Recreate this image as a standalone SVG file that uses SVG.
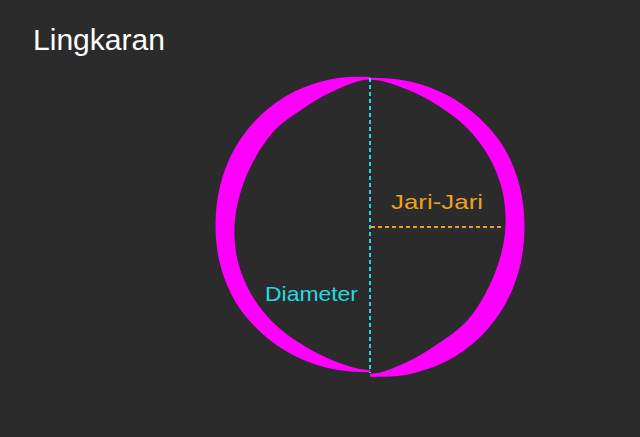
<svg xmlns="http://www.w3.org/2000/svg" width="640" height="437" viewBox="0 0 640 437">
  <defs>
    <style>
      .bg { fill: #2b2b2b; }
      .crescent { fill: #ff00ff; stroke: none; }
      .title { font-family: "Liberation Sans", Arial, sans-serif; font-size: 30px; fill: #ffffff; }
      .lbl { font-family: "Liberation Sans", Arial, sans-serif; font-size: 21px; }
      .dia { stroke: #26d9e0; stroke-width: 2; stroke-dasharray: 4 3; fill: none; }
      .rad { stroke: #f0a020; stroke-width: 2; stroke-dasharray: 4 3; fill: none; }
    </style>
    <path id="crescent" d="M370,76.7 C356.97,76.7 343.71,76.59 330.92,79.15 C318.13,81.71 305,86.03 293.25,92.07 C281.5,98.11 270.05,106.2 260.4,115.4 C250.75,124.6 242.03,135.67 235.34,147.25 C228.66,158.83 223.6,171.93 220.29,184.89 C216.98,197.85 215.5,211.63 215.5,225 C215.5,238.37 216.91,252.19 220.29,265.11 C223.67,278.03 228.85,291.15 235.77,302.5 C242.69,313.85 252.02,324.31 261.81,333.19 C271.6,342.07 282.89,349.85 294.5,355.77 C306.11,361.69 318.91,366.03 331.49,368.73 C344.07,371.44 357.16,372 370,372 L370,370 C357.88,370 345.1,365.03 333.64,360.71 C322.18,356.39 311.4,350.49 301.25,344.08 C291.11,337.67 281.16,330.62 272.77,322.23 C264.38,313.84 256.77,304.05 250.92,293.75 C245.07,283.46 240.41,271.92 237.67,260.46 C234.93,249 233.94,236.67 234.5,225 C235.06,213.33 237.66,201.53 241.05,190.45 C244.44,179.37 249.18,168.59 254.82,158.5 C260.46,148.41 266.89,138.19 274.89,129.89 C282.9,121.59 292.99,115.22 302.85,108.69 C312.71,102.17 322.84,95.61 334.03,90.74 C345.22,85.88 358.01,79.5 370,79.5 Z"/>
  </defs>
  <rect class="bg" x="0" y="0" width="640" height="437"/>
  <g id="title">
    <text class="title" x="33" y="50" textLength="132" lengthAdjust="spacingAndGlyphs">Lingkaran</text>
  </g>
  <g id="circle">
    <use id="crescent-left" href="#crescent" class="crescent"/>
    <use id="crescent-right" href="#crescent" class="crescent" transform="matrix(-1 0 0 -1.012 740 454.29)"/>
  </g>
  <g id="connectors">
    <line class="dia" x1="370" y1="78" x2="370" y2="373"/>
    <line class="rad" x1="371" y1="227" x2="503" y2="227"/>
  </g>
  <g id="label-jari">
    <text class="lbl" x="391" y="209" fill="#f0a020" textLength="92" lengthAdjust="spacingAndGlyphs">Jari-Jari</text>
  </g>
  <g id="label-diameter">
    <text class="lbl" x="265" y="301" fill="#26d9e0" textLength="93" lengthAdjust="spacingAndGlyphs">Diameter</text>
  </g>
</svg>
